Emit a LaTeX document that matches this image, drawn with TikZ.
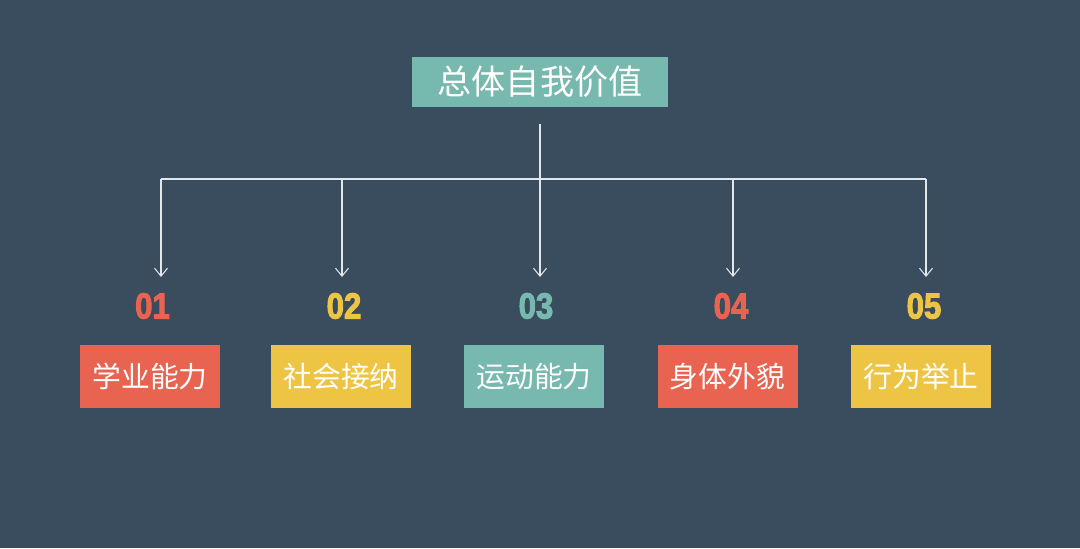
\documentclass[tikz,border=0pt]{standalone}
\usepackage{fontspec}
\setmainfont{Liberation Sans}
\newfontfamily\cjk{Noto Sans CJK SC}
\newfontfamily\numfont{Liberation Sans}[BoldFont={Liberation Sans Bold}, BoldFeatures={FakeBold=3}]
\usepackage{xcolor}
\definecolor{bgslate}{HTML}{3A4D5E}
\definecolor{tealbox}{HTML}{77B8AF}
\definecolor{redbox}{HTML}{E96351}
\definecolor{yellowbox}{HTML}{EDC443}
\definecolor{linegray}{HTML}{E2E7EB}
\usetikzlibrary{arrows.meta, positioning}

\begin{document}
\begin{tikzpicture}[
	box/.style={rectangle, minimum width=2.8cm, minimum height=1.26cm, inner sep=0pt, text=white, font=\cjk\fontsize{16.4}{18}\selectfont},
	headbox/.style={box, fill=tealbox, minimum width=5.12cm, minimum height=1.0cm, font=\cjk\fontsize{19.4}{22}\selectfont},
	num/.style={font=\numfont\bfseries\fontsize{20.6}{22}\selectfont, inner sep=0pt},
	line/.style={draw=linegray, line width=0.6pt},
	arr/.style={line, -{Straight Barb[length=1.6mm, width=2.6mm]}}
	]
	% background and frame
	\fill[bgslate] (0,0) rectangle (21.6,10.96);

	\node[headbox] (top) at (10.80,9.32) {总体自我价值};
	\coordinate (hub) at (10.80,7.38);

	% five branches
	\foreach \i/\x/\bx/\nx/\c/\t in {1/3.22/3.00/3.05/redbox/学业能力, 2/6.84/6.82/6.88/yellowbox/社会接纳, 3/10.80/10.68/10.72/tealbox/运动能力, 4/14.66/14.55/14.62/redbox/身体外貌, 5/18.52/18.42/18.48/yellowbox/行为举止}{
		\coordinate (fork\i) at (\x,7.38);
		\coordinate (tip\i) at (\x,5.42);
		\node[box, fill=\c] (item\i) at (\bx,3.43) {\t};
		\node[num, text=\c] (num\i) at (\nx,4.84) {\scalebox{0.86}[1]{0\i}};
		\draw[arr] (fork\i) -- (tip\i);
	}

	\draw[line, shorten <=0.34cm] (top) -- (hub);
	\draw[line] (fork1) -- (fork5);
\end{tikzpicture}
\end{document}
